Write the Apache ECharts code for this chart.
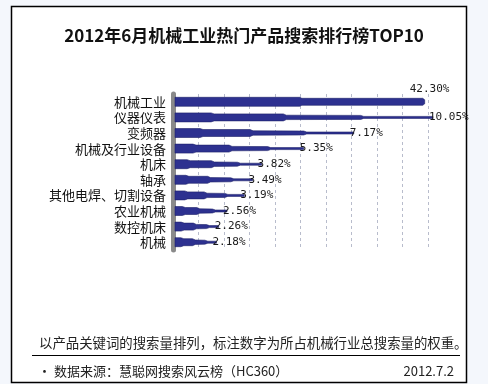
<!DOCTYPE html>
<html>
<head>
<meta charset="utf-8">
<script src="https://cdn.jsdelivr.net/npm/echarts@6/dist/echarts.min.js"></script>
<style>
html,body{margin:0;padding:0;background:#f4f7fc;}
#chart{width:488px;height:384px;}
</style>
</head>
<body>
<div id="chart"></div>
<script>
// ---- data ----
const categories = ['机械工业','仪器仪表','变频器','机械及行业设备','机床','轴承','其他电焊、切割设备','农业机械','数控机床','机械'];
const shares = [42.30, 10.05, 7.17, 5.35, 3.82, 3.49, 3.19, 2.56, 2.26, 2.18];
const titleText = '2012年6月机械工业热门产品搜索排行榜TOP10';
const noteText = '以产品关键词的搜索量排列，标注数字为所占机械行业总搜索量的权重。';
const sourceText = '• 数据来源：慧聪网搜索风云榜（HC360）';
const dateText = '2012.7.2';

// ---- display settings ----
const X_MIN = 0.6, X_MAX = 9.87;
const BREAK_AT = 20, CAP_TO = 9.75; // broken axis: values above BREAK_AT are drawn to CAP_TO
const barColor = '#2d3190', barEdge = '#1d2068';

const chart = echarts.init(document.getElementById('chart'), null, {renderer:'canvas'});

function renderBar(params, api) {
  const v = api.value(0);
  const cat = api.value(1);
  const capped = v > BREAK_AT;
  const shown = capped ? CAP_TO : v;
  const s = api.coord([X_MIN, cat]);
  const e = api.coord([shown, cat]);
  const x0 = s[0] + 2, x1 = e[0], y = s[1];
  const L = x1 - x0;
  let pts;
  if (capped) {
    const m = x0 + L * 0.5;
    pts = [[x0,y-4.5],[m,y-4.5],[m+2,y-3.5],[x1-2,y-3.5],[x1,y-2],[x1,y+2],[x1-2,y+3.5],[m+2,y+3.5],[m,y+4.5],[x0,y+4.5]];
  } else {
    const a = x0 + L*0.14, b = x0 + L*0.42, c = x0 + L*0.72;
    pts = [[x0,y-4.5],[a,y-4.5],[a+3,y-3.5],[b,y-3.5],[b+3,y-2.2],[c,y-2],[c+3,y-1],[x1,y-1],
           [x1,y+1],[c+3,y+1],[c,y+2],[b+3,y+2.2],[b,y+3.5],[a+3,y+3.5],[a,y+4.5],[x0,y+4.5]];
  }
  const label = v.toFixed(2) + '%';
  const tx = capped ? x1 - 15 : x1 - 4;
  const ty = capped ? y - 13 : y;
  return {
    type: 'group',
    children: [
      {type:'polygon', shape:{points:pts}, style:{fill:barColor, stroke:barEdge, lineWidth:0.6}},
      {type:'text', x: tx, y: ty, z2: 5,
       style:{text:label, fill:'#1a1a1a', font:'11px "DejaVu Sans Mono", monospace', textAlign:'left', textVerticalAlign:'middle'}}
    ]
  };
}

const option = {
  backgroundColor: '#f4f7fc',
  animation: false,
  graphic: [
    {type:'rect', shape:{x:11.5, y:6.5, width:455, height:376}, style:{fill:'#ffffff', stroke:'#000', lineWidth:1.5}, z:-10},
    {type:'line', shape:{x1:32, y1:355.5, x2:460, y2:355.5}, style:{stroke:'#000', lineWidth:1}}
  ],
  title: [
    {text: titleText, left: 'center', top: 22,
     textStyle:{fontFamily:'"Noto Sans CJK SC", sans-serif', fontSize:17, fontWeight:'bold', color:'#111'}},
    {text: noteText, left: 34, top: 331,
     textStyle:{fontFamily:'"Noto Sans CJK SC", sans-serif', fontSize:13.4, fontWeight:'normal', color:'#222'}},
    {text: sourceText, left: 33, top: 360,
     textStyle:{fontFamily:'"Noto Sans CJK SC", sans-serif', fontSize:13, fontWeight:'normal', color:'#222'}},
    {text: dateText, right: 29, top: 360,
     textStyle:{fontFamily:'"Noto Sans CJK SC", sans-serif', fontSize:13, fontWeight:'normal', color:'#222'}}
  ],
  grid: {left:173, top:94, width:255, height:156},
  xAxis: [
    {type:'value', min:X_MIN, max:X_MAX, show:false},
    {type:'value', min:0, max:10, interval:1, position:'bottom',
     axisLine:{show:false}, axisTick:{show:false}, axisLabel:{show:false},
     splitLine:{show:true, lineStyle:{color:'#b8bccc', type:[3,3], width:1}}}
  ],
  yAxis: {
    type:'category', data: categories, inverse:true,
    axisLine:{show:true, lineStyle:{color:'#8a8a8a', width:5}},
    axisTick:{show:false},
    axisLabel:{interval:0, fontFamily:'"Noto Sans CJK SC", sans-serif', fontSize:13, color:'#111', margin:7},
    z: 3
  },
  series: [{
    type:'custom',
    xAxisIndex:0, yAxisIndex:0,
    renderItem: renderBar,
    encode:{x:0, y:1},
    data: shares.map((v,i)=>[v, i]),
    z: 4,
    clip: false
  }]
};
chart.setOption(option);
</script>
</body>
</html>
